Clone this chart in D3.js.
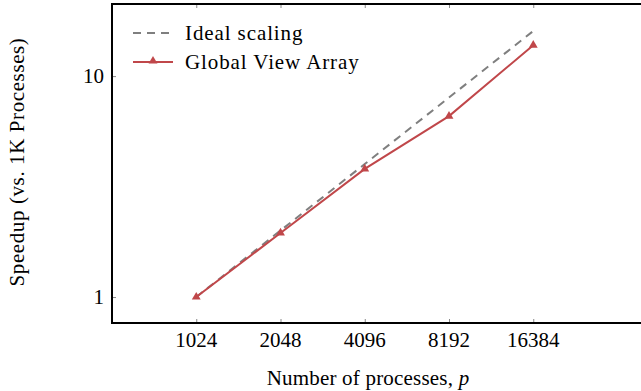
<!DOCTYPE html>
<html>
<head>
<meta charset="utf-8">
<script src="https://cdn.jsdelivr.net/npm/d3@7"></script>
<style>
  html, body { margin: 0; padding: 0; background: #fff; }
  svg { display: block; }
  text { font-family: "Liberation Serif", "DejaVu Serif", serif; fill: #000; }
</style>
</head>
<body>
<svg id="chart" width="641" height="391"></svg>
<script>
// ---- data ----
const processes = [1024, 2048, 4096, 8192, 16384];
const idealSpeedup = [1, 2, 4, 8, 16];
const gvaSpeedup = [1, 1.95, 3.80, 6.59, 13.8];
const xTickLabels = ["1024", "2048", "4096", "8192", "16384"];
const yTicks = [1, 10];
const seriesNames = ["Ideal scaling", "Global View Array"];
const xTitle = "Number of processes, ";
const yTitle = "Speedup (vs. 1K Processes)";

// ---- layout ----
const svg = d3.select("#chart");
const pLeft = 112, pTop = 4, pBottom = 323;
const step = 84.25;
const x = d3.scaleLog().base(2).domain([512, 65536]).range([pLeft, pLeft + step * 7]);
const y = d3.scaleLog().domain([0.763, 21.2]).range([pBottom, pTop]);
const pRight = x(65536);

const red = "#c0474a";
const gray = "#7f7f7f";
const fs = 21;

// ticks (inward)
const xAxisB = d3.axisBottom(x).tickValues(processes).tickSize(-4).tickFormat(() => "");
const xAxisT = d3.axisTop(x).tickValues(processes).tickSize(-4).tickFormat(() => "");
const yAxisL = d3.axisLeft(y).tickValues(yTicks).tickSize(-4).tickFormat(() => "");

function styleAxis(g) {
  g.select(".domain").remove();
  g.selectAll(".tick line").attr("stroke", "#888").attr("stroke-width", 1);
}
svg.append("g").attr("transform", `translate(0,${pBottom})`).call(xAxisB).call(styleAxis);
svg.append("g").attr("transform", `translate(0,${pTop})`).call(xAxisT).call(styleAxis);
svg.append("g").attr("transform", `translate(${pLeft},0)`).call(yAxisL).call(styleAxis);

// tick labels
svg.append("g").selectAll("text").data(processes).join("text")
  .attr("x", d => x(d)).attr("y", 347)
  .attr("text-anchor", "middle").attr("font-size", fs)
  .text((d, i) => xTickLabels[i]);
svg.append("g").selectAll("text").data(yTicks).join("text")
  .attr("x", pLeft - 8).attr("y", d => y(d) + 7)
  .attr("text-anchor", "end").attr("font-size", fs)
  .text(d => d3.format("d")(d));

// lines
const line = d3.line().x(d => x(d[0])).y(d => y(d[1]));
svg.append("path")
  .datum(processes.map((p, i) => [p, idealSpeedup[i]]))
  .attr("d", line).attr("fill", "none")
  .attr("stroke", gray).attr("stroke-width", 2).attr("stroke-dasharray", "8,6");
svg.append("path")
  .datum(processes.map((p, i) => [p, gvaSpeedup[i]]))
  .attr("d", line).attr("fill", "none")
  .attr("stroke", red).attr("stroke-width", 2);
const tri = d3.symbol().type(d3.symbolTriangle).size(34);
svg.append("g").selectAll("path").data(processes.map((p, i) => [p, gvaSpeedup[i]])).join("path")
  .attr("transform", d => `translate(${x(d[0])},${y(d[1])})`)
  .attr("d", tri).attr("fill", red);

// frame
svg.append("rect").attr("x", pLeft).attr("y", pTop)
  .attr("width", pRight - pLeft).attr("height", pBottom - pTop)
  .attr("fill", "none").attr("stroke", "#000").attr("stroke-width", 2);

// legend
const lg = svg.append("g");
lg.append("line").attr("x1", 133).attr("x2", 173).attr("y1", 33).attr("y2", 33)
  .attr("stroke", gray).attr("stroke-width", 2).attr("stroke-dasharray", "8,6");
lg.append("text").attr("x", 185).attr("y", 40).attr("font-size", fs)
  .attr("letter-spacing", 0.9).text(seriesNames[0]);
lg.append("line").attr("x1", 133).attr("x2", 173).attr("y1", 62).attr("y2", 62)
  .attr("stroke", red).attr("stroke-width", 2);
lg.append("path").attr("transform", "translate(153,61)").attr("d", tri).attr("fill", red);
lg.append("text").attr("x", 185).attr("y", 69).attr("font-size", fs)
  .attr("letter-spacing", 0.9).text(seriesNames[1]);

// axis titles
const xt = svg.append("text").attr("x", 368).attr("y", 385)
  .attr("text-anchor", "middle").attr("font-size", fs).attr("letter-spacing", 0.2);
xt.append("tspan").text(xTitle);
xt.append("tspan").attr("font-style", "italic").text("p");
svg.append("text")
  .attr("transform", "translate(24,162) rotate(-90)")
  .attr("text-anchor", "middle").attr("font-size", fs).attr("letter-spacing", 0.6)
  .text(yTitle);
</script>
</body>
</html>
